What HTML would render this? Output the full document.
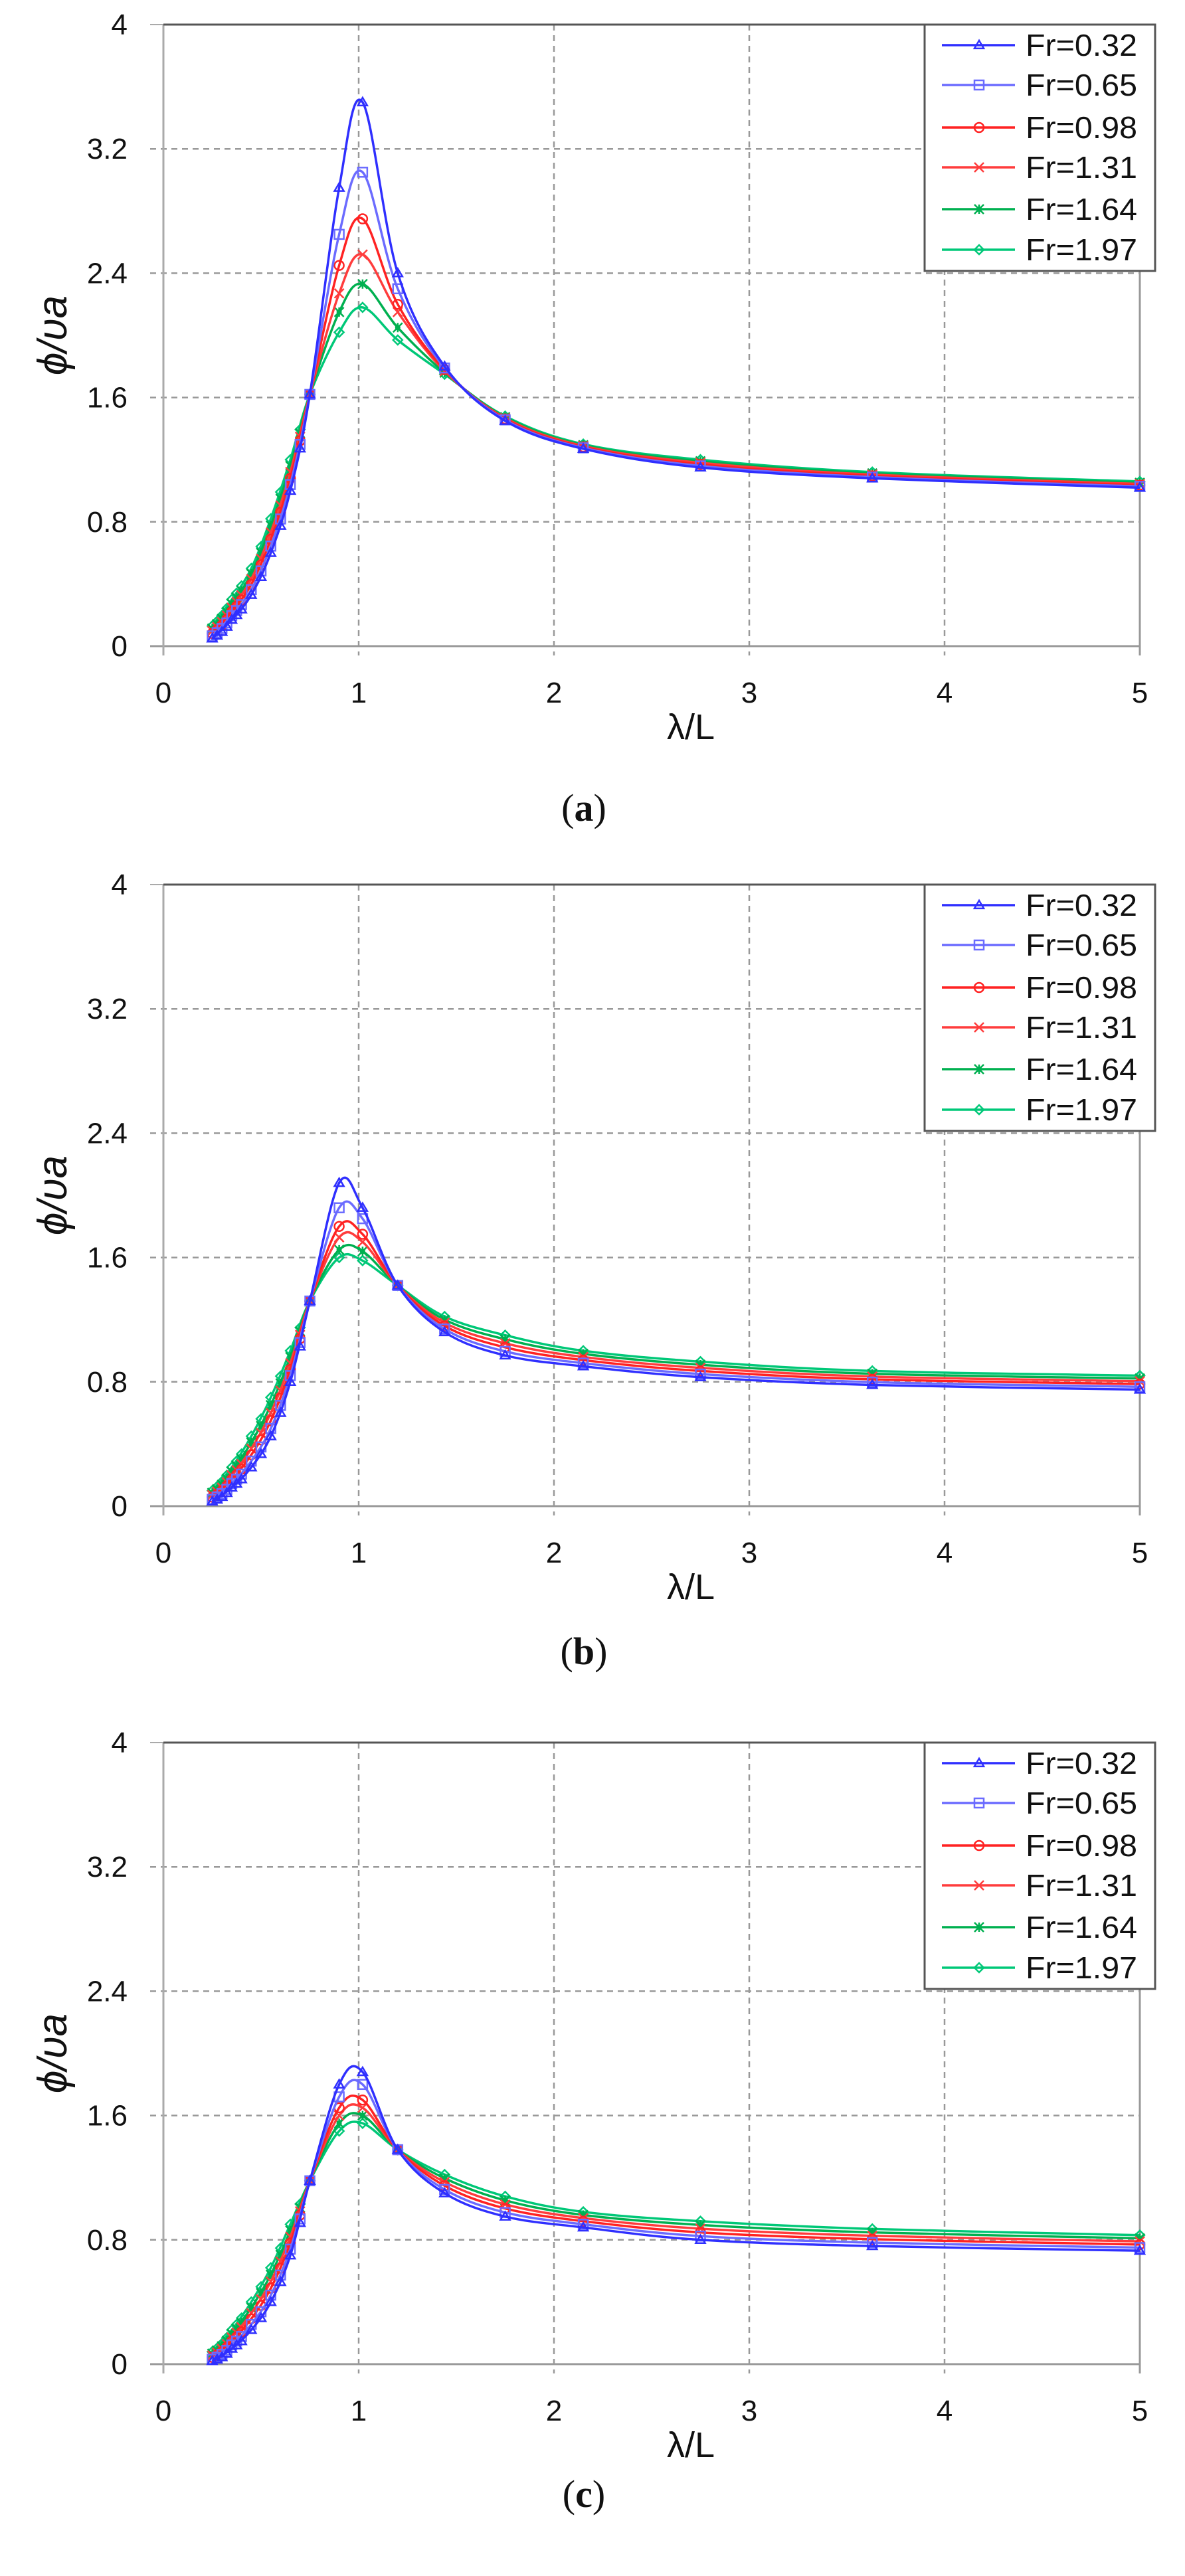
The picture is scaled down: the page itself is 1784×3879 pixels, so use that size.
<!DOCTYPE html>
<html><head><meta charset="utf-8"><style>
html,body{margin:0;padding:0;background:#fff;}
svg{display:block;}
text{font-family:"Liberation Sans",sans-serif;fill:#111;}
</style></head><body>
<svg id="s" width="1784" height="3879" viewBox="0 0 1784 3879" xmlns="http://www.w3.org/2000/svg"></svg>
<script>
const S=document.getElementById('s');const NS='http://www.w3.org/2000/svg';
function el(t,a,p){const e=document.createElementNS(NS,t);for(const k in a)e.setAttribute(k,a[k]);(p||S).appendChild(e);return e;}
function txt(x,y,s,a){const e=el('text',Object.assign({x:x,y:y},a||{}));e.textContent=s;return e;}
const X0=246,XU=294,H=936;
const cols=['#2f2fff','#6b6bff','#ff2222','#ff3c3c','#00b050','#00c878'];
const names=['Fr=0.32','Fr=0.65','Fr=0.98','Fr=1.31','Fr=1.64','Fr=1.97'];
const lowX=[0.25,0.35,0.45,0.55,0.65,0.75],tailX=[1.44,1.75,2.15,2.75,3.63,5],midX=[0.9,1.02,1.2];
const panels=[
{top:37,cap:'a',capY:1236,low:[[0.05,0.17,0.33,0.6,1.0,1.62],[0.13,0.3,0.5,0.82,1.2,1.62]],
 mid:[[2.95,3.5,2.4],[2.65,3.05,2.3],[2.45,2.75,2.2],[2.27,2.52,2.15],[2.15,2.33,2.05],[2.02,2.18,1.97]],
 tail:[[1.8,1.45,1.27,1.15,1.08,1.02],[1.75,1.48,1.3,1.2,1.12,1.06]]},
{top:1332,cap:'b',capY:2506,low:[[0.03,0.12,0.25,0.45,0.8,1.32],[0.1,0.25,0.45,0.7,1.0,1.32]],
 mid:[[2.08,1.92,1.42],[1.92,1.85,1.42],[1.8,1.75,1.42],[1.73,1.7,1.42],[1.65,1.64,1.42],[1.6,1.58,1.42]],
 tail:[[1.12,0.97,0.9,0.83,0.78,0.75],[1.22,1.1,1.0,0.93,0.87,0.84]]},
{top:2624,cap:'c',capY:3775,low:[[0.02,0.1,0.22,0.4,0.7,1.18],[0.08,0.22,0.4,0.62,0.9,1.18]],
 mid:[[1.8,1.88,1.38],[1.72,1.8,1.38],[1.65,1.7,1.38],[1.6,1.65,1.38],[1.55,1.6,1.38],[1.5,1.55,1.38]],
 tail:[[1.1,0.95,0.88,0.8,0.76,0.73],[1.22,1.08,0.98,0.92,0.87,0.83]]}];
function marker(g,i,x,y,c){const r=7;
 if(i==0)el('polygon',{points:`${x},${y-r} ${x-r},${y+r*0.7} ${x+r},${y+r*0.7}`,fill:'none',stroke:c,'stroke-width':2.5},g);
 else if(i==1)el('rect',{x:x-r,y:y-r,width:2*r,height:2*r,fill:'none',stroke:c,'stroke-width':2.5},g);
 else if(i==2)el('circle',{cx:x,cy:y,r:r,fill:'none',stroke:c,'stroke-width':2.5},g);
 else if(i==3)el('path',{d:`M${x-r} ${y-r}L${x+r} ${y+r}M${x+r} ${y-r}L${x-r} ${y+r}`,stroke:c,'stroke-width':2.5},g);
 else if(i==4){el('path',{d:`M${x-r} ${y-r}L${x+r} ${y+r}M${x+r} ${y-r}L${x-r} ${y+r}M${x} ${y-r}L${x} ${y+r}`,stroke:c,'stroke-width':2.5},g);el('circle',{cx:x,cy:y,r:4,fill:c},g);}
 else el('polygon',{points:`${x},${y-r} ${x+r},${y} ${x},${y+r} ${x-r},${y}`,fill:'none',stroke:c,'stroke-width':2.5},g);}
function path(pts){let d=`M${pts[0][0]} ${pts[0][1]}`;for(let i=0;i<pts.length-1;i++){const p0=pts[Math.max(0,i-1)],p1=pts[i],p2=pts[i+1],p3=pts[Math.min(pts.length-1,i+2)];
 const t=0.17;d+=`C${p1[0]+(p2[0]-p0[0])*t} ${p1[1]+(p2[1]-p0[1])*t} ${p2[0]-(p3[0]-p1[0])*t} ${p2[1]-(p3[1]-p1[1])*t} ${p2[0]} ${p2[1]}`;}return d;}
panels.forEach(P=>{
 const T=P.top,B=T+H,YU=H/4;const px=x=>X0+x*XU,py=v=>B-v*YU;
 for(let k=1;k<=4;k++){el('line',{x1:px(k),y1:T,x2:px(k),y2:B+14,stroke:'#999','stroke-width':2.5,'stroke-dasharray':'9,7'});}
 for(let k=1;k<=4;k++){el('line',{x1:X0-20,y1:py(k*0.8),x2:px(5),y2:py(k*0.8),stroke:'#999','stroke-width':2.5,'stroke-dasharray':'9,7'});}
 el('line',{x1:X0-20,y1:T,x2:X0,y2:T,stroke:'#aaa','stroke-width':2});
 el('line',{x1:X0-20,y1:B,x2:px(5),y2:B,stroke:'#999','stroke-width':3});
 el('line',{x1:X0,y1:T,x2:X0,y2:B+14,stroke:'#aaa','stroke-width':3});
 el('line',{x1:px(5),y1:T,x2:px(5),y2:B+14,stroke:'#999','stroke-width':3});
 el('line',{x1:X0,y1:T,x2:px(5),y2:T,stroke:'#555','stroke-width':3});
 const yl=['0','0.8','1.6','2.4','3.2','4'];
 yl.forEach((s,k)=>txt(192,py(k*0.8)+15,s,{'font-size':44,'text-anchor':'end'}));
 for(let k=0;k<=5;k++)txt(px(k),B+85,String(k),{'font-size':44,'text-anchor':'middle'});
 txt(1040,B+140,'λ/L',{'font-size':54,'text-anchor':'middle'});
 const yt=el('text',{x:0,y:0,'font-size':62,'font-style':'italic','text-anchor':'middle',transform:`translate(100,${T+468}) rotate(-90)`});yt.textContent='ϕ/υa';
 for(let i=5;i>=0;i--){const t=i/5;const pts=[];
  lowX.forEach((x,j)=>pts.push([px(x),py(P.low[0][j]*(1-t)+P.low[1][j]*t)]));
  midX.forEach((x,j)=>pts.push([px(x),py(P.mid[i][j])]));
  tailX.forEach((x,j)=>pts.push([px(x),py(P.tail[0][j]*(1-t)+P.tail[1][j]*t)]));
  const g=el('g',{});
  el('path',{d:path(pts),fill:'none',stroke:cols[i],'stroke-width':3.5},g);
  const lx=[0.25,0.275,0.3,0.325,0.35,0.375,0.4,0.45,0.5,0.55,0.6,0.65,0.7,0.75];
  lx.forEach(x=>{let j=0;while(j<lowX.length-2&&x>lowX[j+1])j++;const f=(x-lowX[j])/(lowX[j+1]-lowX[j]);
   const v0=P.low[0][j]*(1-t)+P.low[1][j]*t,v1=P.low[0][j+1]*(1-t)+P.low[1][j+1]*t;
   const v=v0*Math.pow(Math.max(v1,0.01)/Math.max(v0,0.01),f);marker(g,i,px(x),py(v),cols[i]);});
  pts.slice(6).forEach(p=>marker(g,i,p[0],p[1],cols[i]));
 }
 const L=el('g',{});
 el('rect',{x:1392,y:T,width:347,height:371,fill:'#fff',stroke:'#555','stroke-width':3},L);
 const ly=[31,91,155,215,278,339];
 names.forEach((n,i)=>{const y=T+ly[i];el('line',{x1:1418,y1:y,x2:1528,y2:y,stroke:cols[i],'stroke-width':3.5},L);marker(L,i,1474,y,cols[i]);
  txt(1544,y+16,n,{'font-size':46,textLength:168,lengthAdjust:'spacingAndGlyphs'});});
 const c=el('text',{x:879,y:P.capY,'font-size':58,'text-anchor':'middle',style:'font-family:"Liberation Serif",serif'});
 c.innerHTML=`(<tspan font-weight="bold">${P.cap}</tspan>)`;
});
</script>
</body></html>
